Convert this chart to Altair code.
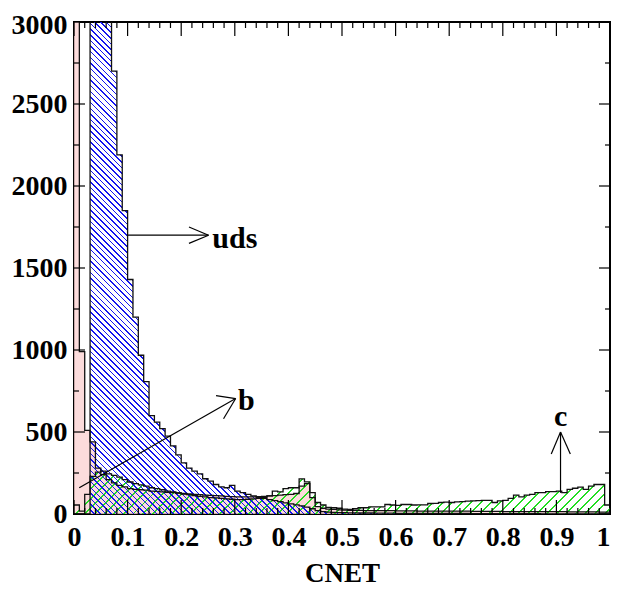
import math
import altair as alt
import pandas as pd

# ---------------- data (bin width 0.01, left edges 0.00 .. 0.99) ----------------
bin_left = [round(i * 0.01, 2) for i in range(100)]

uds = [0, 0, 0, 4300, 5000, 4400, 3500, 2700, 2190, 1850,
       1430, 1200, 968, 807, 600, 560, 520, 475, 415, 360,
       312, 280, 262, 245, 215, 200, 180, 165, 160, 175,
       140, 130, 120, 110, 100, 95, 88, 82, 75, 68,
       62, 56, 50, 42, 32, 20, 14, 11, 9, 8,
       8, 7, 7, 6, 6, 6, 5, 5, 5, 5,
       4, 4, 4, 4, 4, 3, 3, 3, 3, 3,
       3, 3, 3, 3, 2, 2, 2, 2, 2, 2,
       2, 2, 2, 2, 2, 2, 2, 1, 1, 1,
       1, 1, 1, 1, 1, 1, 1, 1, 1, 1]

b_vals = [6500, 990, 510, 440, 280, 240, 210, 190, 175, 165,
          155, 150, 148, 145, 140, 138, 135, 132, 130, 128,
          125, 122, 120, 118, 115, 113, 112, 110, 108, 106,
          105, 105, 104, 104, 106, 108, 110, 112, 115, 118,
          120, 125, 170, 185, 100, 45, 35, 30, 28, 25,
          24, 23, 22, 22, 21, 21, 20, 20, 20, 20,
          19, 19, 19, 19, 18, 18, 18, 18, 18, 17,
          17, 17, 17, 17, 16, 16, 16, 16, 16, 16,
          15, 15, 15, 15, 15, 15, 14, 14, 14, 14,
          14, 14, 13, 13, 13, 13, 13, 13, 12, 12]

c_vals = [55, 18, 120, 230, 255, 262, 245, 235, 225, 210,
          195, 185, 178, 170, 160, 155, 148, 140, 135, 128,
          122, 118, 112, 108, 105, 100, 98, 95, 92, 90,
          88, 88, 90, 92, 95, 100, 110, 140, 135, 155,
          160, 160, 214, 196, 130, 70, 55, 40, 38, 35,
          30, 28, 32, 38, 38, 44, 44, 44, 58, 55,
          52, 58, 58, 55, 56, 56, 64, 65, 70, 72,
          70, 74, 76, 78, 80, 82, 83, 83, 70, 80,
          83, 95, 115, 105, 115, 120, 130, 130, 136, 136,
          140, 130, 150, 157, 164, 150, 170, 180, 180, 55]

x_major = [round(i * 0.1, 1) for i in range(11)]
x_minor = [round(i * 0.02, 2) for i in range(51) if i % 5 != 0]
y_major = list(range(0, 3001, 500))
y_minor = list(range(250, 3000, 500))

# annotation arrows (data units)
arrow_x = [0.10, 0.251, 0.251, 0.0098, 0.3016, 0.3016, 0.9077, 0.9077, 0.9077]
arrow_y = [1700, 1700, 1700, 160, 704, 704, 129, 500, 500]
arrow_x2 = [0.251, 0.2145, 0.2145, 0.3016, 0.265, 0.279, 0.9077, 0.8904, 0.926]
arrow_y2 = [1700, 1750, 1650, 704, 722, 581, 500, 366, 366]

label_text = ["uds", "b", "c"]
label_x = [0.258, 0.306, 0.908]
label_y = [1621, 637, 534]
label_align = ["left", "left", "center"]

# ---------------- layout ----------------
W, H, YMAX = 536, 492, 3000
FONT = "Liberation Serif"

xscale = alt.Scale(domain=[0, 1], nice=False, zero=False)
yscale = alt.Scale(domain=[0, YMAX], nice=False)
xaxis = alt.Axis(values=x_major, format="~g", title="CNET", ticks=False, domain=False,
                 grid=False, labelPadding=9, labelFlush=False, labelOverlap=False,
                 labelAlign={"condition": {"test": "datum.value >= 1", "value": "right"},
                             "value": "center"},
                 titlePadding=9)
yaxis = alt.Axis(values=y_major, format="d", title="", ticks=False, domain=False,
                 grid=False, labelPadding=7, labelFlush=False, labelOverlap=False,
                 labelOffset={"condition": {"test": "datum.value >= 3000", "value": 3},
                              "value": 0})


def X(f="x"):
    return alt.X(f"{f}:Q", scale=xscale, axis=xaxis)


def Y(f="y"):
    return alt.Y(f"{f}:Q", scale=yscale, axis=yaxis)


def step_df(vals):
    return pd.DataFrame({"x": bin_left + [1.0], "y": list(vals) + [vals[-1]]})


def hatch(color, maxval, spacing, width_px, direction):
    Wb = float(W)
    Hb = maxval * H / YMAX
    alpha = (Wb + Hb) / (Wb ** 2 + Hb ** 2)
    a = alpha * Wb
    if direction == "back":
        x1, y1, x2, y2 = 0, 1, a, 1 - alpha * Hb
    else:
        x1, y1, x2, y2 = 0, 0, a, alpha * Hb
    L = (Wb + Hb) / math.sqrt(2)
    clear = "rgba(255,255,255,0)"
    p = spacing / L
    w = width_px / L
    stops = [{"offset": 0, "color": clear}]
    s = p / 2
    while s + w < 1:
        s0, s1 = round(s, 6), round(s + w, 6)
        stops += [{"offset": s0, "color": clear}, {"offset": s0, "color": color},
                  {"offset": s1, "color": color}, {"offset": s1, "color": clear}]
        s += p
    stops.append({"offset": 1, "color": clear})
    return {"gradient": "linear", "x1": x1, "y1": y1, "x2": x2, "y2": y2, "stops": stops}


layers = []

# fills
layers.append(alt.Chart(step_df(b_vals)).mark_area(
    interpolate="step-after", clip=True, fill="#fbd3d3", fillOpacity=0.8
).encode(x=X(), y=Y()))
layers.append(alt.Chart(step_df(c_vals)).mark_area(
    interpolate="step-after", clip=True,
    fill=hatch("#22dd22", max(c_vals), 6.8, 1.4, "fwd")
).encode(x=X(), y=Y()))
layers.append(alt.Chart(step_df(uds)).mark_area(
    interpolate="step-after", clip=True,
    fill=hatch("#1414f0", max(uds), 4.0, 1.1, "back")
).encode(x=X(), y=Y()))

# outlines
for vals in (b_vals, c_vals, uds):
    layers.append(alt.Chart(step_df(vals)).mark_line(
        interpolate="step-after", clip=True, color="#111111", strokeWidth=1.3
    ).encode(x=X(), y=Y()))

# inward ticks on all four sides
for vals, ln in ((x_major, 14), (x_minor, 6)):
    d = pd.DataFrame({"x": vals})
    layers.append(alt.Chart(d).mark_rule(color="black", strokeWidth=1.2).encode(
        x=X(), y=alt.value(H), y2=alt.value(H - ln)))
    layers.append(alt.Chart(d).mark_rule(color="black", strokeWidth=1.2).encode(
        x=X(), y=alt.value(0), y2=alt.value(ln)))
for vals, ln in ((y_major, 11), (y_minor, 5)):
    d = pd.DataFrame({"y": vals})
    layers.append(alt.Chart(d).mark_rule(color="black", strokeWidth=1.2).encode(
        y=Y(), x=alt.value(0), x2=alt.value(ln)))
    layers.append(alt.Chart(d).mark_rule(color="black", strokeWidth=1.2).encode(
        y=Y(), x=alt.value(W), x2=alt.value(W - ln)))

# arrows
arrows = pd.DataFrame({"x": arrow_x, "y": arrow_y, "x2": arrow_x2, "y2": arrow_y2})
layers.append(alt.Chart(arrows).mark_rule(color="black", strokeWidth=1.2).encode(
    x=X(), y=Y(), x2="x2:Q", y2="y2:Q"))

# labels
labels = pd.DataFrame({"x": label_x, "y": label_y, "t": label_text, "a": label_align})
for al in ("left", "center"):
    layers.append(alt.Chart(labels[labels["a"] == al]).mark_text(
        align=al, baseline="alphabetic", font=FONT, fontSize=30, fontWeight="bold",
        color="black"
    ).encode(x=X(), y=Y(), text="t:N"))

chart = alt.layer(*layers).properties(
    width=W, height=H,
    autosize=alt.AutoSizeParams(type="none"),
    padding={"left": 66, "top": 14, "right": 1, "bottom": 80},
).configure_view(
    stroke="black", strokeWidth=2
).configure_axis(
    labelFont=FONT, labelFontSize=28, labelFontWeight="bold", labelColor="black",
    titleFont=FONT, titleFontSize=27, titleFontWeight="bold", titleColor="black"
)

chart.save("out.html", embed_options={"renderer": "svg", "actions": False})
